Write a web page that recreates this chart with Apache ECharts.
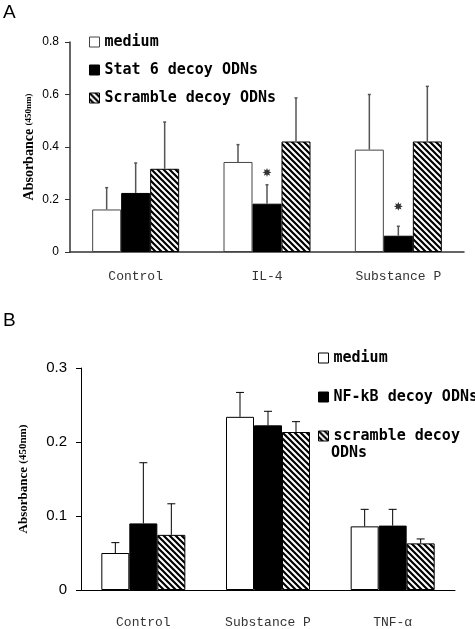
<!DOCTYPE html>
<html><head><meta charset="utf-8">
<script src="https://cdn.jsdelivr.net/npm/echarts@6/dist/echarts.min.js"></script>
<style>html,body{margin:0;padding:0;background:#fff}#c{width:475px;height:629px}</style>
</head><body><div id="c"></div>
<script>
// ---- Panel A data ----
const catsA = ['Control', 'IL-4', 'Substance P'];
const mediumA = [0.162, 0.343, 0.390];
const mediumA_sd = [0.083, 0.066, 0.210];
const stat6A = [0.225, 0.184, 0.062];
const stat6A_sd = [0.114, 0.072, 0.036];
const scrambleA = [0.317, 0.421, 0.421];
const scrambleA_sd = [0.178, 0.166, 0.210];
const starA = [null, 0.303, 0.174];
const namesA = ['medium', 'Stat 6 decoy ODNs', 'Scramble decoy ODNs'];

// ---- Panel B data ----
const catsB = ['Control', 'Substance P', 'TNF-α'];
const mediumB = [0.050, 0.234, 0.086];
const mediumB_sd = [0.014, 0.033, 0.023];
const nfkbB = [0.090, 0.2225, 0.087];
const nfkbB_sd = [0.082, 0.019, 0.022];
const scrambleB = [0.0745, 0.2135, 0.063];
const scrambleB_sd = [0.042, 0.014, 0.006];
const namesB = ['medium ', 'NF-kB decoy ODNs', 'scramble decoy ODNs'];

function hatch() {
  const c = document.createElement('canvas');
  c.width = c.height = 6;
  const g = c.getContext('2d');
  g.fillStyle = '#fff'; g.fillRect(0, 0, 6, 6);
  g.strokeStyle = '#000'; g.lineWidth = 2.2;
  g.beginPath();
  g.moveTo(-1, -1); g.lineTo(7, 7);
  g.moveTo(-1, 5); g.lineTo(1, 7);
  g.moveTo(5, -1); g.lineTo(7, 1);
  g.stroke();
  return c;
}
const hatchFill = { image: hatch(), repeat: 'repeat' };

function barS(name, data, idx, fill, bw, border) {
  return {
    type: 'bar', name, data, xAxisIndex: idx, yAxisIndex: idx,
    barWidth: bw, barGap: 0, z: 2,
    itemStyle: { color: fill, borderColor: border, borderWidth: 1 }
  };
}
function errS(means, sds, idx, pos, bw, style, capW) {
  return {
    type: 'custom', xAxisIndex: idx, yAxisIndex: idx, z: 5, silent: true,
    data: means.map((m, i) => [i, m, m + sds[i]]),
    renderItem: (params, api) => {
      const p0 = api.coord([api.value(0), api.value(1)]);
      const p1 = api.coord([api.value(0), api.value(2)]);
      const x = p0[0] + pos * bw;
      return { type: 'group', children: [
        { type: 'line', shape: { x1: x, y1: p0[1], x2: x, y2: p1[1] }, style },
        { type: 'line', shape: { x1: x - capW / 2, y1: p1[1], x2: x + capW / 2, y2: p1[1] }, style }
      ]};
    }
  };
}

const starPath = 'path://M0,-5L0.995,-2.402L3.536,-3.536L2.402,-0.995L5,0L2.402,0.995L3.536,3.536L0.995,2.402L0,5L-0.995,2.402L-3.536,3.536L-2.402,0.995L-5,0L-2.402,-0.995L-3.536,-3.536L-0.995,-2.402Z';

const catLabel = { fontFamily: 'Liberation Mono', fontSize: 13, color: '#333' };
const legendText = { fontFamily: 'DejaVu Sans Mono', fontWeight: 'bold', fontSize: 15, color: '#000', lineHeight: 18 };

const option = {
  animation: false,
  backgroundColor: '#fff',
  graphic: [
    { type: 'text', left: 3, top: 3, style: { text: 'A', font: '19px "Liberation Sans"', fill: '#000' } },
    { type: 'text', left: 3, top: 311, style: { text: 'B', font: '19px "Liberation Sans"', fill: '#000' } },
    { type: 'text', left: 331, top: 446, style: { text: 'ODNs', font: 'bold 15px "DejaVu Sans Mono"', fill: '#000' } }
  ],
  grid: [
    { left: 70, right: 11, top: 42, height: 210 },
    { left: 81, right: 20, top: 368, height: 222 }
  ],
  legend: [
    { data: namesA, orient: 'vertical', left: 89, top: 33, padding: 0, icon: 'rect',
      itemWidth: 10, itemHeight: 10, itemGap: 10,
      textStyle: legendText, selectedMode: false, itemStyle: { borderWidth: 1 } },
    { data: namesB, orient: 'vertical', left: 318, top: 349, padding: 0, icon: 'rect',
      itemWidth: 10, itemHeight: 10, itemGap: 21,
      textStyle: legendText, selectedMode: false, itemStyle: { borderWidth: 1 },
      formatter: n => n === 'scramble decoy ODNs' ? 'scramble decoy' : n.trim() }
  ],
  xAxis: [
    { type: 'category', gridIndex: 0, data: catsA,
      axisLine: { lineStyle: { color: '#333', width: 1.5 } },
      axisTick: { inside: true, length: 4, lineStyle: { color: '#333' } },
      axisLabel: Object.assign({ margin: 18 }, catLabel) },
    { type: 'category', gridIndex: 1, data: catsB,
      axisLine: { lineStyle: { color: '#000', width: 1 } },
      axisTick: { inside: true, length: 4, lineStyle: { color: '#000' } },
      axisLabel: Object.assign({ margin: 26 }, catLabel) }
  ],
  yAxis: [
    { type: 'value', gridIndex: 0, min: 0, max: 0.8, interval: 0.2,
      splitLine: { show: false },
      axisLine: { show: true, lineStyle: { color: '#333', width: 1.5 } },
      axisTick: { show: true, length: 5, lineStyle: { color: '#333' } },
      axisLabel: { fontFamily: 'Liberation Sans', fontSize: 12, color: '#000', margin: 11 },
      name: '{a|Absorbance} {b|(450nm)}', nameLocation: 'middle', nameRotate: 90, nameGap: 34,
      nameMoveOverlap: false,
      nameTextStyle: { rich: {
        a: { fontFamily: 'Liberation Serif', fontWeight: 'bold', fontSize: 14, color: '#000' },
        b: { fontFamily: 'Liberation Serif', fontWeight: 'bold', fontSize: 9, color: '#000' } } } },
    { type: 'value', gridIndex: 1, min: 0, max: 0.3, interval: 0.1,
      splitLine: { show: false },
      axisLine: { show: true, lineStyle: { color: '#000', width: 1 } },
      axisTick: { show: true, length: 5, lineStyle: { color: '#000' } },
      axisLabel: { fontFamily: 'Liberation Sans', fontSize: 15, color: '#000', margin: 14 },
      name: '{a|Absorbance} {b|(450nm)}', nameLocation: 'middle', nameRotate: 90, nameGap: 51,
      nameMoveOverlap: false,
      nameTextStyle: { rich: {
        a: { fontFamily: 'Liberation Serif', fontWeight: 'bold', fontSize: 13, color: '#000' },
        b: { fontFamily: 'Liberation Serif', fontWeight: 'bold', fontSize: 11, color: '#000' } } } }
  ],
  series: [
    barS(namesA[0], mediumA, 0, '#fff', 29, '#444'),
    barS(namesA[1], stat6A, 0, '#000', 29, '#000'),
    barS(namesA[2], scrambleA, 0, hatchFill, 29, '#000'),
    errS(mediumA, mediumA_sd, 0, -1, 29, { stroke: '#555', lineWidth: 1.5 }, 3),
    errS(stat6A, stat6A_sd, 0, 0, 29, { stroke: '#555', lineWidth: 1.5 }, 3),
    errS(scrambleA, scrambleA_sd, 0, 1, 29, { stroke: '#555', lineWidth: 1.5 }, 3),
    { type: 'scatter', xAxisIndex: 0, yAxisIndex: 0, data: starA, z: 6, silent: true,
      symbol: starPath, symbolSize: 9,
      itemStyle: { color: '#000' } },
    barS(namesB[0], mediumB, 1, '#fff', 28, '#000'),
    barS(namesB[1], nfkbB, 1, '#000', 28, '#000'),
    barS(namesB[2], scrambleB, 1, hatchFill, 28, '#000'),
    errS(mediumB, mediumB_sd, 1, -1, 28, { stroke: '#000', lineWidth: 1 }, 8),
    errS(nfkbB, nfkbB_sd, 1, 0, 28, { stroke: '#000', lineWidth: 1 }, 8),
    errS(scrambleB, scrambleB_sd, 1, 1, 28, { stroke: '#000', lineWidth: 1 }, 8)
  ]
};
const chart = echarts.init(document.getElementById('c'), null, { renderer: 'canvas' });
chart.setOption(option);
</script></body></html>
